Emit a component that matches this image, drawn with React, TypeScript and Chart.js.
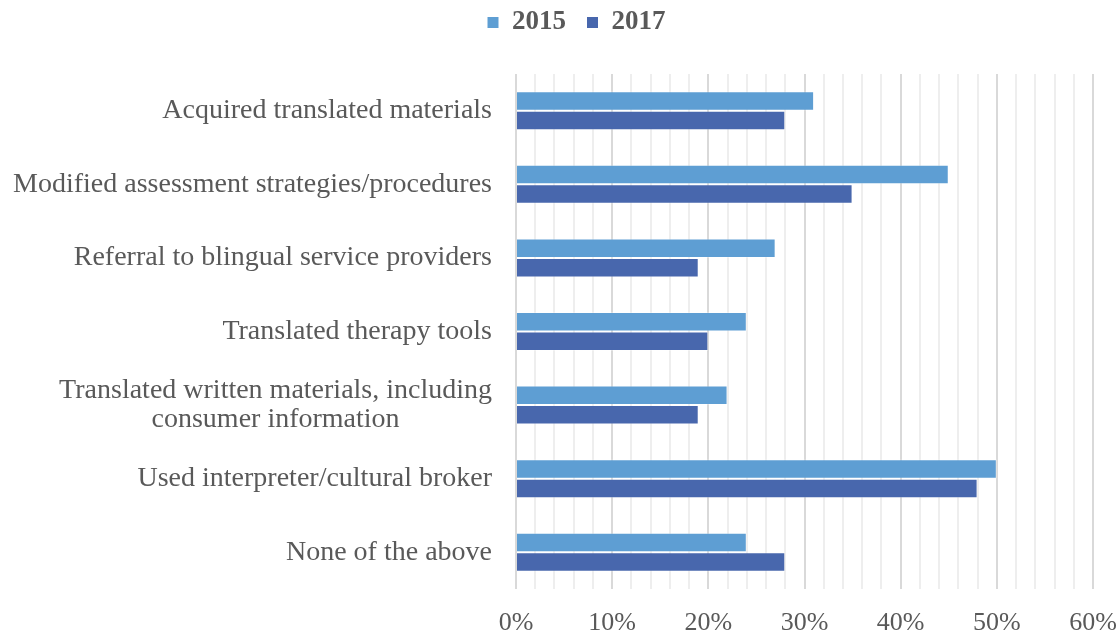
import React, { useEffect, useRef } from "react";
import { Chart, registerables } from "chart.js";

Chart.register(...registerables);

const categories: (string | string[])[] = [
  "Acquired translated materials",
  "Modified assessment strategies/procedures",
  "Referral to blingual service providers",
  "Translated therapy tools",
  ["Translated written materials, including", "consumer information"],
  "Used interpreter/cultural broker",
  "None of the above",
];
const values2015 = [31, 45, 27, 24, 22, 50, 24];
const values2017 = [28, 35, 19, 20, 19, 48, 28];
const seriesNames = ["2015", "2017"];

const FONT = '"Times New Roman", "Liberation Serif", serif';
const TEXT = "#595959";
const LABEL_SIZE = 28;
const PAD_LEFT = 60;

const yLabelPlugin = {
  id: "yLabels",
  afterDraw(chart: any) {
    const scale = chart.scales.y;
    const ctx = chart.ctx;
    ctx.save();
    ctx.font = `${LABEL_SIZE}px ${FONT}`;
    ctx.fillStyle = TEXT;
    ctx.textBaseline = "middle";
    ctx.textAlign = "center";
    const xRight = scale.right - 24;
    const lh = 29;
    categories.forEach((lab, i) => {
      const lines = Array.isArray(lab) ? lab : [lab];
      const w = Math.max(...lines.map((l) => ctx.measureText(l).width));
      const cy = scale.getPixelForTick(i);
      const y0 = cy - ((lines.length - 1) * lh) / 2;
      lines.forEach((l, j) => {
        ctx.fillText(l, xRight - w / 2, y0 + j * lh);
      });
    });
    ctx.restore();
  },
};

const legendSpace = {
  id: "legendSpace",
  beforeInit(chart: any) {
    const legend = chart.legend;
    if (!legend) return;
    const orig = legend.fit;
    legend.fit = function () {
      orig.call(this);
      this.height += 28;
    };
  },
};

export default function App() {
  const ref = useRef<HTMLCanvasElement | null>(null);
  useEffect(() => {
    if (!ref.current) return;
    const chart = new Chart(ref.current, {
      type: "bar",
      data: {
        labels: categories as any,
        datasets: [
          {
            label: seriesNames[0],
            data: values2015,
            backgroundColor: "#5E9ED3",
            borderColor: "rgba(255,255,255,0.3)",
            borderWidth: 1,
          },
          {
            label: seriesNames[1],
            data: values2017,
            backgroundColor: "#4867AD",
            borderColor: "rgba(255,255,255,0.3)",
            borderWidth: 1,
          },
        ],
      },
      options: {
        indexAxis: "y",
        animation: false,
        responsive: true,
        maintainAspectRatio: false,
        layout: { padding: { top: -12, left: PAD_LEFT, right: 26, bottom: 0 } },
        datasets: { bar: { barPercentage: 1, categoryPercentage: 0.53 } },
        plugins: {
          tooltip: { enabled: false },
          legend: {
            position: "top",
            labels: {
              boxWidth: 11,
              boxHeight: 11,
              padding: 21,
              color: TEXT,
              font: { family: FONT, size: 27, weight: "bold" },
              generateLabels(chart: any) {
                const items = Chart.defaults.plugins.legend.labels.generateLabels(chart);
                return items.map((it: any) => ({ ...it, lineWidth: 0, strokeStyle: "rgba(0,0,0,0)" }));
              },
            },
          },
        },
        scales: {
          x: {
            min: 0,
            max: 60,
            ticks: {
              stepSize: 2,
              autoSkip: false,
              maxRotation: 0,
              padding: 19,
              color: TEXT,
              font: { family: FONT, size: 26 },
              callback: (v: any) => (Number(v) % 10 === 0 ? `${v}%` : ""),
            },
            grid: {
              drawTicks: false,
              lineWidth: 2,
              color: (c: any) => (c.tick && c.tick.value % 10 === 0 ? "#d9d9d9" : "#eeeeee"),
            },
            border: { display: false },
            afterFit(scale: any) {
              scale.height = 45;
              scale.paddingRight = 0;
              scale.paddingLeft = 0;
            },
          },
          y: {
            ticks: {
              color: "rgba(0,0,0,0)",
              padding: 24,
              font: { family: FONT, size: LABEL_SIZE },
            },
            grid: { display: false },
            border: { display: false },
            afterFit(scale: any) {
              scale.width = 516 - PAD_LEFT;
              scale.paddingTop = 0;
              scale.paddingBottom = 0;
            },
          },
        },
      },
      plugins: [legendSpace, yLabelPlugin],
    });
    return () => chart.destroy();
  }, []);
  return (
    <div style={{ position: "fixed", left: 0, top: 0, width: 1119, height: 634, background: "#fff" }}>
      <canvas ref={ref} />
    </div>
  );
}
